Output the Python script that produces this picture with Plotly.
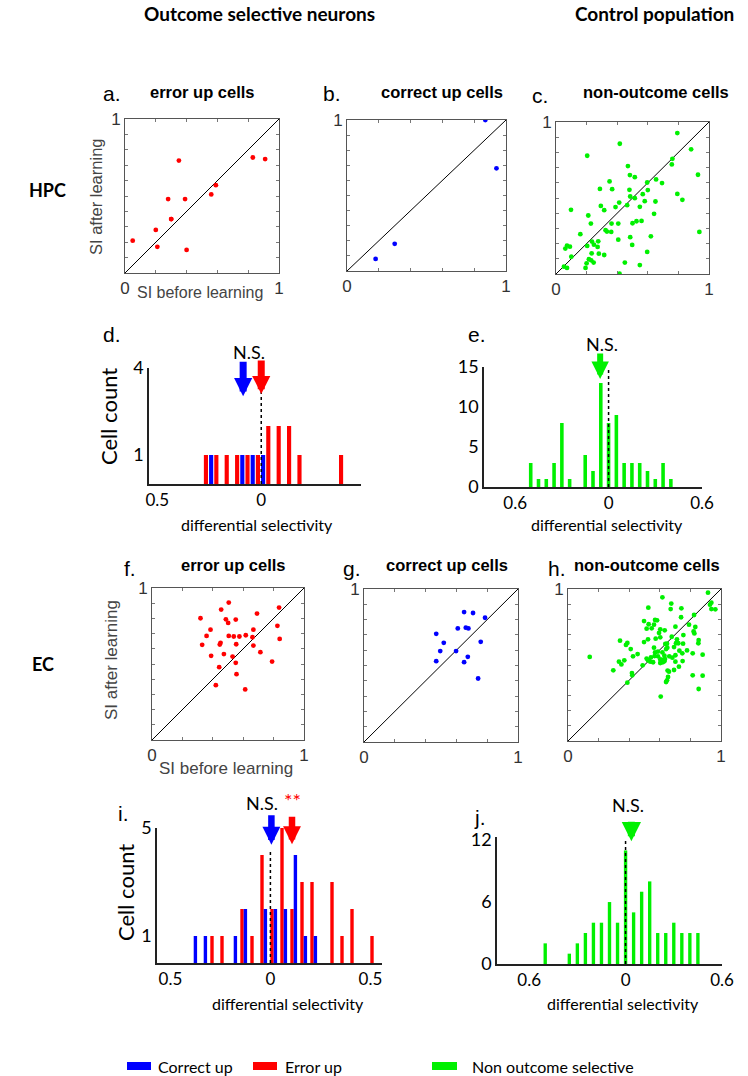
import plotly.graph_objects as go

W, H = 748, 1076

# ---------------- data ----------------
# HPC scatter: selectivity index before / after learning
a_before = [0.05, 0.20, 0.21, 0.28, 0.30, 0.30, 0.35, 0.39, 0.40, 0.56, 0.59, 0.83, 0.91]
a_after = [0.21, 0.28, 0.17, 0.48, 0.35, 0.35, 0.73, 0.48, 0.15, 0.51, 0.57, 0.75, 0.74]

b_before = [0.18, 0.30, 0.87, 0.94]
b_after = [0.08, 0.18, 1.00, 0.68]

c_before = [0.793, 0.417, 0.883, 0.204, 0.470, 0.761, 0.757, 0.483, 0.515, 0.654, 0.350, 0.693,
            0.596, 0.287, 0.367, 0.480, 0.600, 0.793, 0.485, 0.567, 0.515, 0.580, 0.650, 0.826,
            0.413, 0.293, 0.465, 0.389, 0.315, 0.098, 0.548, 0.211, 0.641, 0.228, 0.363, 0.407,
            0.500, 0.526, 0.559, 0.159, 0.324, 0.333, 0.361, 0.937, 0.620, 0.485, 0.407, 0.276,
            0.235, 0.248, 0.072, 0.091, 0.061, 0.204, 0.272, 0.498, 0.100, 0.233, 0.280, 0.315,
            0.596, 0.200, 0.215, 0.230, 0.246, 0.193, 0.450, 0.548, 0.052, 0.072, 0.415, 0.928]
c_after = [0.927, 0.857, 0.820, 0.778, 0.710, 0.758, 0.721, 0.651, 0.637, 0.622, 0.609, 0.598,
           0.602, 0.560, 0.558, 0.554, 0.552, 0.527, 0.510, 0.525, 0.499, 0.479, 0.477, 0.488,
           0.470, 0.448, 0.453, 0.440, 0.420, 0.422, 0.442, 0.385, 0.396, 0.332, 0.332, 0.332,
           0.334, 0.347, 0.349, 0.262, 0.288, 0.279, 0.277, 0.277, 0.248, 0.242, 0.226, 0.215,
           0.213, 0.193, 0.187, 0.180, 0.167, 0.185, 0.178, 0.191, 0.114, 0.136, 0.134, 0.125,
           0.145, 0.070, 0.097, 0.090, 0.075, 0.040, 0.075, 0.059, 0.048, 0.040, 0.002, 0.653]

# HPC histograms of differential selectivity (bin centres, counts)
d_red_x = [-0.266, -0.216, -0.166, -0.116, -0.066, -0.016, 0.034, 0.084, 0.134, 0.184, 0.384]
d_red_y = [1, 1, 1, 1, 1, 1, 2, 2, 2, 1, 1]
d_blue_x = [-0.241, -0.091, -0.041, 0.009]
d_blue_y = [1, 1, 1, 1]
d_mean_blue, d_mean_red = -0.087, 0.0

e_x = [-0.5, -0.45, -0.4, -0.35, -0.3, -0.25, -0.15, -0.1, -0.05, 0.0, 0.05, 0.1, 0.15, 0.2, 0.25, 0.3, 0.35, 0.4]
e_y = [3, 1, 1, 3, 8, 1, 4, 2, 13, 8, 9, 3, 3, 3, 2, 1, 3, 1]
e_mean = -0.054

# EC scatter
f_before = [0.319, 0.505, 0.455, 0.486, 0.551, 0.501, 0.385, 0.667, 0.691, 0.836, 0.825, 0.840,
            0.359, 0.505, 0.538, 0.575, 0.617, 0.661, 0.330, 0.446, 0.451, 0.554, 0.667, 0.713,
            0.473, 0.530, 0.389, 0.551, 0.790, 0.442, 0.556, 0.420, 0.613]
f_after = [0.801, 0.904, 0.858, 0.794, 0.792, 0.770, 0.726, 0.726, 0.832, 0.871, 0.751, 0.665,
           0.685, 0.685, 0.681, 0.681, 0.689, 0.676, 0.626, 0.628, 0.639, 0.630, 0.621, 0.578,
           0.565, 0.549, 0.554, 0.508, 0.516, 0.479, 0.433, 0.361, 0.333]

g_before = [0.650, 0.708, 0.786, 0.609, 0.661, 0.678, 0.469, 0.518, 0.758, 0.495, 0.598, 0.674, 0.469, 0.650, 0.741]
g_after = [0.849, 0.843, 0.812, 0.742, 0.747, 0.742, 0.707, 0.648, 0.655, 0.594, 0.594, 0.557, 0.528, 0.522, 0.415]

h_before = [0.915, 0.617, 0.937, 0.675, 0.928, 0.671, 0.525, 0.741, 0.937, 0.963, 0.824, 0.739,
            0.497, 0.569, 0.582, 0.527, 0.562, 0.702, 0.791, 0.832, 0.514, 0.547, 0.603, 0.632,
            0.821, 0.826, 0.754, 0.678, 0.595, 0.603, 0.340, 0.388, 0.379, 0.497, 0.523, 0.573,
            0.712, 0.636, 0.647, 0.706, 0.721, 0.752, 0.854, 0.852, 0.410, 0.562, 0.588, 0.641,
            0.649, 0.693, 0.728, 0.778, 0.747, 0.815, 0.569, 0.566, 0.617, 0.630, 0.588, 0.455,
            0.425, 0.514, 0.542, 0.142, 0.880, 0.603, 0.617, 0.634, 0.662, 0.702, 0.682, 0.749,
            0.538, 0.556, 0.523, 0.603, 0.619, 0.488, 0.630, 0.702, 0.333, 0.349, 0.368, 0.693,
            0.725, 0.651, 0.660, 0.296, 0.418, 0.420, 0.815, 0.880, 0.654, 0.647, 0.641, 0.388,
            0.854, 0.606]
h_after = [0.976, 0.945, 0.910, 0.904, 0.897, 0.868, 0.877, 0.873, 0.868, 0.866, 0.829, 0.814,
           0.789, 0.796, 0.794, 0.768, 0.765, 0.752, 0.765, 0.750, 0.739, 0.741, 0.735, 0.728,
           0.721, 0.708, 0.697, 0.686, 0.711, 0.682, 0.660, 0.645, 0.632, 0.651, 0.669, 0.673,
           0.669, 0.638, 0.640, 0.643, 0.643, 0.640, 0.664, 0.643, 0.605, 0.614, 0.588, 0.605,
           0.614, 0.618, 0.594, 0.596, 0.577, 0.577, 0.583, 0.559, 0.583, 0.561, 0.557, 0.572,
           0.557, 0.542, 0.550, 0.553, 0.568, 0.537, 0.533, 0.539, 0.557, 0.564, 0.548, 0.526,
           0.522, 0.518, 0.531, 0.513, 0.518, 0.498, 0.524, 0.522, 0.522, 0.504, 0.531, 0.467,
           0.489, 0.463, 0.456, 0.465, 0.447, 0.432, 0.432, 0.430, 0.421, 0.399, 0.388, 0.384,
           0.342, 0.292]

# EC histograms
i_red_x = [-0.292, -0.242, -0.142, -0.092, -0.042, 0.008, 0.058, 0.108, 0.158, 0.208, 0.308, 0.358, 0.408, 0.508]
i_red_y = [1, 1, 2, 1, 4, 2, 5, 2, 3, 3, 3, 1, 2, 1]
i_blue_x = [-0.375, -0.325, -0.175, -0.125, -0.025, 0.025, 0.075, 0.125, 0.175, 0.225]
i_blue_y = [1, 1, 1, 2, 2, 2, 2, 4, 1, 1]
i_mean_blue, i_mean_red = 0.005, 0.108

j_x = [-0.5, -0.35, -0.3, -0.25, -0.2, -0.15, -0.1, -0.05, 0.0, 0.05, 0.1, 0.15, 0.2, 0.25, 0.3, 0.35, 0.4, 0.45]
j_y = [2, 1, 2, 3, 4, 4, 6, 4, 11, 5, 7, 8, 3, 3, 4, 3, 3, 3]
j_mean = 0.036

RED, BLUE, GREEN = "#ff0000", "#0000ff", "#00f000"
SANS = "Liberation Sans, Arial, sans-serif"
MYR = "Lato, Open Sans, sans-serif"

def dx(x0, x1):
    return [x0 / W, x1 / W]

def dy(y0, y1):
    return [1 - y1 / H, 1 - y0 / H]

fig = go.Figure()
layout = dict(width=W, height=H, margin=dict(l=0, r=0, t=0, b=0, pad=0), autosize=False,
              template="none",
              paper_bgcolor="white", plot_bgcolor="white", showlegend=False,
              barmode="overlay")
annotations = []
shapes = []

def ann(text, x, y, size, color="black", bold=False, family=SANS, angle=0, xanchor="center"):
    if bold:
        text = "<b>" + text + "</b>"
    annotations.append(dict(text=text, x=x / W, y=1 - y / H, xref="paper", yref="paper",
                            showarrow=False, xanchor=xanchor, yanchor="middle", textangle=angle,
                            font=dict(size=size, color=color, family=family)))

# ---------- scatter panels ----------
scatter_specs = [
    (1, (125, 279), (119, 273), a_before, a_after, RED),
    (2, (347, 506), (120, 271), b_before, b_after, BLUE),
    (3, (556, 709), (122, 274), c_before, c_after, GREEN),
    (6, (152, 304), (588, 740), f_before, f_after, RED),
    (7, (364, 518), (589, 742), g_before, g_after, BLUE),
    (8, (568, 721), (589, 741), h_before, h_after, GREEN),
]
for n, xr, yr, xs, ys, col in scatter_specs:
    xa, ya = "x%d" % n, "y%d" % n
    fig.add_trace(go.Scatter(x=[0, 1], y=[0, 1], mode="lines", line=dict(color="black", width=1),
                             xaxis=xa, yaxis=ya, hoverinfo="skip"))
    fig.add_trace(go.Scatter(x=xs, y=ys, mode="markers", marker=dict(color=col, size=4.8),
                             xaxis=xa, yaxis=ya))
    common = dict(range=[0, 1], showline=True, linecolor="#555", linewidth=1, mirror="allticks",
                  ticks="inside", ticklen=3, tickcolor="#777", showgrid=False, zeroline=False,
                  automargin=False,
                  tickfont=dict(size=17, color="#333", family=SANS))
    layout["xaxis%d" % n] = dict(common, domain=dx(*xr), anchor=ya, tickvals=[0, 1], ticktext=["0", "1"],
                                 minor=dict(tickvals=[0.2, 0.4, 0.6, 0.8], ticks="inside", ticklen=3,
                                            tickcolor="#777", showgrid=False))
    layout["yaxis%d" % n] = dict(common, domain=dy(*yr), anchor=xa, tickvals=[1], ticktext=["1"],
                                 minor=dict(tickvals=[0.1, 0.2, 0.3, 0.4, 0.5, 0.6, 0.7, 0.8, 0.9],
                                            ticks="inside", ticklen=3, tickcolor="#777", showgrid=False))

# ---------- histogram panels ----------
hist_specs = [
    (4, (149, 361), (368, 484), [-0.54, 0.48], [0, 4], [-0.5, 0, 0.5], [1, 4]),
    (5, (484, 702), (367, 487), [-0.8, 0.6], [0, 15], [-0.6, 0, 0.6], [0, 5, 10, 15]),
    (9, (157, 382), (828, 963), [-0.567, 0.558], [0, 5], [-0.5, 0, 0.5], [1, 5]),
    (10, (497, 722), (837, 964), [-0.8, 0.6], [0, 12.3], [-0.6, 0, 0.6], [0, 6, 12]),
]
for n, xr, yr, xrange_, yrange_, xt, yt in hist_specs:
    xa, ya = "x%d" % n, "y%d" % n
    layout["xaxis%d" % n] = dict(domain=dx(*xr), anchor=ya, range=xrange_, showline=True, linecolor="#222",
                                 linewidth=1.5, ticks="", showgrid=False, zeroline=False, automargin=False,
                                 tickvals=xt, ticktext=[("%g" % abs(v)) for v in xt],
                                 tickfont=dict(size=17, color="black", family=MYR))
    layout["yaxis%d" % n] = dict(domain=dy(*yr), anchor=xa, range=yrange_, showline=True, linecolor="#222",
                                 linewidth=1.5, ticks="", showgrid=False, zeroline=False, automargin=False,
                                 tickvals=yt, ticktext=[str(v) for v in yt],
                                 tickfont=dict(size=18, color="black", family=MYR))

def bars(x, y, col, n, width):
    fig.add_trace(go.Bar(x=x, y=y, width=width, marker=dict(color=col, line=dict(width=0)),
                         xaxis="x%d" % n, yaxis="y%d" % n))

def dotted(n, top):
    shapes.append(dict(type="line", xref="x%d" % n, yref="y%d" % n, x0=0, x1=0, y0=0, y1=top,
                       line=dict(color="black", width=1.5, dash="dot")))

dotted(4, 4.0)
dotted(5, 14.9)
dotted(9, 4.2)
dotted(10, 12.0)

bars(d_red_x, d_red_y, RED, 4, 0.02)
bars(d_blue_x, d_blue_y, BLUE, 4, 0.02)
bars(e_x, e_y, GREEN, 5, 0.023)
bars(i_red_x, i_red_y, RED, 9, 0.017)
bars(i_blue_x, i_blue_y, BLUE, 9, 0.017)
bars(j_x, j_y, GREEN, 10, 0.021)

def arrow(n, xv, yv, length, col, w, size):
    annotations.append(dict(x=xv, y=yv, xref="x%d" % n, yref="y%d" % n, ax=0, ay=-length,
                            showarrow=True, arrowhead=2, arrowwidth=w, arrowsize=size,
                            arrowcolor=col, text="", standoff=0))

arrow(4, d_mean_blue, 3.03, 36, BLUE, 7, 0.52)
arrow(4, d_mean_red, 3.1, 35, RED, 7, 0.52)
arrow(5, e_mean, 13.5, 27, GREEN, 6, 0.58)
arrow(9, i_mean_blue, 4.38, 31, BLUE, 6.5, 0.55)
arrow(9, i_mean_red, 4.4, 29, RED, 6.5, 0.55)
arrow(10, j_mean, 11.9, 21, GREEN, 7, 0.55)

# ---------- texts ----------
ann("Outcome selective neurons", 259, 13, 19, bold=True, family=MYR)
ann("Control population", 654, 13, 19, bold=True, family=MYR)
ann("HPC", 47, 190, 18, bold=True, family=MYR)
ann("EC", 43, 664, 18, bold=True, family=MYR)

for lab, x, y in [("a.", 112, 93), ("b.", 332, 93), ("c.", 540, 96), ("d.", 112, 335), ("e.", 477, 335),
                  ("f.", 130, 568), ("g.", 352, 568), ("h.", 557, 568), ("i.", 123, 813), ("j.", 480, 817)]:
    ann(lab, x, y, 21, family=SANS)

for t, x, y in [("error up cells", 202, 92), ("correct up cells", 442, 92), ("non-outcome cells", 656, 92),
                ("error up cells", 233, 565), ("correct up cells", 447, 565), ("non-outcome cells", 647, 565)]:
    ann(t, x, y, 16.5, bold=True)

ann("SI after learning", 96, 197, 16.5, color="#444", angle=-90)
ann("SI before learning", 200, 292, 16, color="#444")
ann("SI after learning", 111, 660, 17, color="#444", angle=-90)
ann("SI before learning", 226, 768, 17, color="#444")

ann("Cell count", 108, 417, 22, family=MYR, angle=-90)
ann("Cell count", 125, 893, 22, family=MYR, angle=-90)
for x, y in [(257, 524), (607, 524), (288, 1003), (623, 1003)]:
    ann("differential selectivity", x, y, 16, family=MYR)

ann("N.S.", 249, 352, 18, family=MYR)
ann("N.S.", 602, 344, 18, family=MYR)
ann("N.S.", 262, 803, 18, family=MYR)
ann("**", 292, 800, 20, color=RED, family=MYR)
ann("N.S.", 628, 805, 18, family=MYR)

# legend
for col, x0, x1, label, tx in [(BLUE, 127, 151, "Correct up", 156), (RED, 253, 277, "Error up", 283),
                                (GREEN, 432, 457, "Non outcome selective", 470)]:
    shapes.append(dict(type="rect", xref="paper", yref="paper", x0=x0 / W, x1=x1 / W,
                       y0=1 - 1070 / H, y1=1 - 1062 / H, fillcolor=col, line=dict(width=0)))
    ann(label, tx, 1066, 16, family=MYR, xanchor="left")

layout["annotations"] = annotations
layout["shapes"] = shapes
fig.update_layout(**layout)
fig.write_html("out.html", config={"displayModeBar": False},
               post_script="document.body.style.margin='0';document.body.style.overflow='hidden';")
